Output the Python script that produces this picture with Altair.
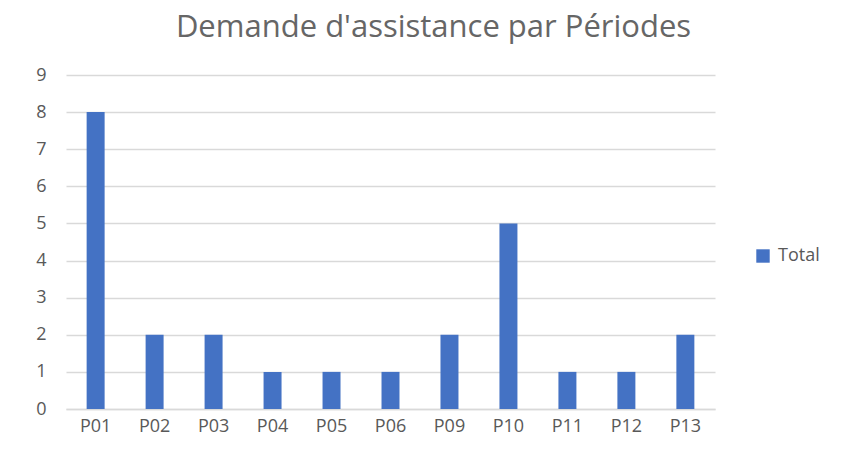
import altair as alt
import pandas as pd

periods = ["P01", "P02", "P03", "P04", "P05", "P06", "P09", "P10", "P11", "P12", "P13"]
totals = [8, 2, 2, 1, 1, 1, 2, 5, 1, 1, 2]
series = ["Total"] * len(periods)

df = pd.DataFrame({"Période": periods, "Total": totals, "Série": series})

FONT = "Open Sans"
GRAY = "#595959"

bars = alt.Chart(df).mark_bar(color="#4472C4").encode(
    x=alt.X("Période:N", sort=periods, title=None,
            scale=alt.Scale(paddingInner=0.695, paddingOuter=0.35),
            axis=alt.Axis(labelAngle=0, labelFontSize=18, labelColor=GRAY, labelFont=FONT,
                          domain=True, domainColor="#d9d9d9", domainWidth=1.5,
                          ticks=False, labelPadding=8)),
    y=alt.Y("Total:Q", title=None,
            scale=alt.Scale(domain=[0, 9]),
            axis=alt.Axis(values=list(range(10)), labelFontSize=18, labelColor=GRAY, labelFont=FONT,
                          domain=False, ticks=False, labelPadding=20,
                          gridColor="#d9d9d9", gridWidth=1.5)),
    fill=alt.Fill("Série:N", scale=alt.Scale(range=["#4472C4"]),
                  legend=alt.Legend(title=None, orient="none", legendX=688, legendY=172,
                                    symbolType="square", symbolSize=180, symbolStrokeWidth=0,
                                    labelFontSize=18, labelColor=GRAY, labelFont=FONT,
                                    labelOffset=6)),
)

chart = bars.properties(
    width=649, height=334,
    title=alt.TitleParams("Demande d'assistance par Périodes", fontSize=31, font=FONT,
                          color="#666666", fontWeight="normal", anchor="middle", dx=43, offset=22),
    autosize=alt.AutoSizeParams(type="none"),
    padding={"left": 58, "top": 67, "right": 130, "bottom": 34},
).configure(background="white").configure_view(stroke=None, strokeWidth=0)

chart.save("out.html", embed_options={"renderer": "svg", "actions": False})
